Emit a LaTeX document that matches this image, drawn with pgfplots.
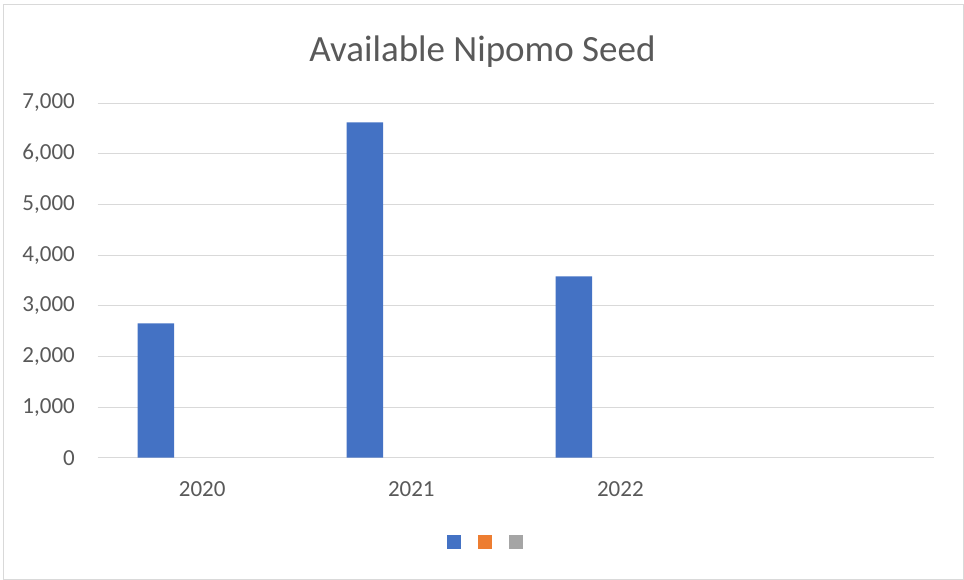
\documentclass[border=0pt]{standalone}
\usepackage{fontspec}
\setmainfont{Carlito}
\usepackage{pgfplots}
\pgfplotsset{compat=1.18}
\definecolor{txt}{HTML}{595959}
\definecolor{gridc}{HTML}{D9D9D9}
\definecolor{s1}{HTML}{4472C4}
\definecolor{s2}{HTML}{ED7D31}
\definecolor{s3}{HTML}{A5A5A5}
\begin{document}
\begin{tikzpicture}
\useasboundingbox (0,0) rectangle (964bp,580bp);
\draw[gridc, line width=1bp] (3bp,1bp) rectangle (963bp,575bp);
\node[anchor=base, text=txt, font=\fontsize{37bp}{44bp}\selectfont, inner sep=0pt] at (482.5bp,518.3bp) {Available Nipomo Seed};
\begin{axis}[
  at={(97.7bp,122.3bp)}, anchor=south west,
  scale only axis, width=836.3bp, height=354.7bp,
  ybar, bar width=36.5bp,
  xmin=-0.5, xmax=3.5, ymin=0, ymax=7000,
  xtick={0,1,2}, xticklabels={2020,2021,2022},
  ytick={0,1000,...,7000},
  ymajorgrids, grid style={gridc, line width=1bp},
  axis line style={draw=none}, major tick length=0pt, tick style={draw=none},
  /pgf/number format/.cd, 1000 sep={,}, assume math mode=true, /pgfplots/.cd,
  ticklabel style={text=txt, font=\fontsize{23bp}{27bp}\selectfont, inner sep=0pt},
  yticklabel style={anchor=east, xshift=-22.7bp},
  xticklabel style={anchor=base, yshift=-38.3bp},
  legend columns=3,
  legend image code/.code={\fill[#1] (0bp,-7bp) rectangle (14bp,7bp);},
  legend style={at={(axis description cs:0.4637,-0.2371)}, anchor=center, draw=none, inner sep=0pt, nodes={inner sep=0pt}, /tikz/every even column/.append style={column sep=16.5bp}},
]
\addplot[fill=s1, draw=none, bar shift=-46.4bp] coordinates {(0,2652) (1,6619) (2,3580)};
\addlegendentry{}
\addlegendimage{fill=s2, draw=none}
\addlegendentry{}
\addlegendimage{fill=s3, draw=none}
\addlegendentry{}
\end{axis}
\end{tikzpicture}
\end{document}
